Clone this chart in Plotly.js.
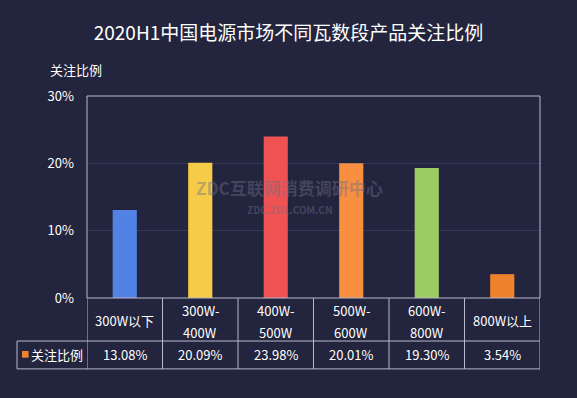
<!DOCTYPE html>
<html>
<head>
<meta charset="utf-8">
<script src="https://cdn.plot.ly/plotly-3.0.1.min.js"></script>
<style>html,body{margin:0;padding:0;background:#23243d;}#chart{width:577px;height:398px;}</style>
</head>
<body>
<div id="chart"></div>
<script>
var categories = ["300W以下", "300W-\n400W", "400W-\n500W", "500W-\n600W", "600W-\n800W", "800W以上"];
var values = [13.08, 20.09, 23.98, 20.01, 19.30, 3.54];
var barColors = ["#5282e3", "#f6cb47", "#ef5252", "#f88e3f", "#9dcb63", "#ef822d"];
var seriesName = "关注比例";
var yTicks = [0, 10, 20, 30];
var titleText = "2020H1中国电源市场不同瓦数段产品关注比例";

var FONT = "'Noto Sans CJK SC', 'Noto Sans', sans-serif";
var lineColor = "#b9b9cc";
var xIdx = categories.map(function(_, i){ return i; });

// table rows in paper coordinates (plot area 0..1)
var catRowBottom = -0.213, valRowBottom = -0.351, valRowCenter = -0.282;
var tableLeft = -0.1545;

var annotations = [];
categories.forEach(function(c, i){
  var lines = c.split("\n");
  if (lines.length === 1) {
    annotations.push({x: i, xref: 'x', y: -0.109, yref: 'paper', text: lines[0], showarrow: false,
      font: {family: FONT, size: 13, color: '#ffffff'}, xanchor: 'center', yanchor: 'middle'});
  } else {
    annotations.push({x: i, xref: 'x', y: -0.062, yref: 'paper', text: lines[0], showarrow: false,
      font: {family: FONT, size: 13, color: '#ffffff'}, xanchor: 'center', yanchor: 'middle'});
    annotations.push({x: i, xref: 'x', y: -0.171, yref: 'paper', text: lines[1], showarrow: false,
      font: {family: FONT, size: 13, color: '#ffffff'}, xanchor: 'center', yanchor: 'middle'});
  }
  annotations.push({x: i, xref: 'x', y: valRowCenter, yref: 'paper', text: values[i].toFixed(2) + '%', showarrow: false,
    font: {family: FONT, size: 13, color: '#ffffff'}, xanchor: 'center', yanchor: 'middle'});
});
// legend label in table
annotations.push({x: -0.127, xref: 'paper', y: valRowCenter, yref: 'paper', text: seriesName, showarrow: false,
  font: {family: FONT, size: 13, color: '#ffffff'}, xanchor: 'left', yanchor: 'middle'});
// y-axis title
annotations.push({x: -0.086, xref: 'paper', y: 1.13, yref: 'paper', text: seriesName, showarrow: false,
  font: {family: FONT, size: 13, color: '#ffffff'}, xanchor: 'left', yanchor: 'middle'});
// watermark
annotations.push({x: 0.448, xref: 'paper', y: 0.545, yref: 'paper', text: "<b>ZDC互联网消费调研中心</b>", showarrow: false,
  font: {family: FONT, size: 17, color: 'rgba(110,112,140,0.45)'}, xanchor: 'center', yanchor: 'middle'});
annotations.push({x: 0.448, xref: 'paper', y: 0.436, yref: 'paper', text: "<b>ZDC.ZOL.COM.CN</b>", showarrow: false,
  font: {family: FONT, size: 10, color: 'rgba(110,112,140,0.45)'}, xanchor: 'center', yanchor: 'middle'});

var shapes = [];
var ln = {color: lineColor, width: 1};
// plot border
shapes.push({type: 'rect', xref: 'paper', yref: 'paper', x0: 0, x1: 1, y0: 0, y1: 1, line: ln});
// table horizontal lines
shapes.push({type: 'line', xref: 'paper', yref: 'paper', x0: tableLeft, x1: 1, y0: catRowBottom, y1: catRowBottom, line: ln});
shapes.push({type: 'line', xref: 'paper', yref: 'paper', x0: tableLeft, x1: 1, y0: valRowBottom, y1: valRowBottom, line: ln});
shapes.push({type: 'line', xref: 'paper', yref: 'paper', x0: tableLeft, x1: tableLeft, y0: catRowBottom, y1: valRowBottom, line: ln});
// table vertical lines at category boundaries
for (var k = 0; k <= categories.length; k++) {
  shapes.push({type: 'line', xref: 'x', yref: 'paper', x0: k - 0.5, x1: k - 0.5, y0: 0, y1: valRowBottom, line: ln});
}
// legend square
shapes.push({type: 'rect', xref: 'paper', yref: 'paper', x0: -0.1435, x1: -0.1290, y0: valRowCenter + 0.003 - 0.0165, y1: valRowCenter + 0.003 + 0.0165,
  fillcolor: barColors[5], line: {width: 0}});

var trace = {
  type: 'bar',
  x: xIdx,
  y: values,
  width: 0.32,
  marker: {color: barColors, line: {width: 0}},
  hoverinfo: 'none',
  name: seriesName
};

var layout = {
  width: 577, height: 398,
  paper_bgcolor: '#23243d',
  plot_bgcolor: '#23243d',
  margin: {l: 87, r: 37, t: 96, b: 100},
  showlegend: false,
  title: {text: titleText, x: 0.5, xanchor: 'center', y: 0.915, yanchor: 'middle',
    font: {family: FONT, size: 19, color: '#ffffff'}},
  xaxis: {range: [-0.5, categories.length - 0.5], showticklabels: false, showgrid: false, zeroline: false, ticks: '', fixedrange: true},
  yaxis: {range: [0, 30], tickvals: yTicks, ticktext: yTicks.map(function(v){ return v + '%'; }),
    showgrid: true, gridcolor: '#36385a', gridwidth: 1, zeroline: false, ticks: '',
    ticklabelstandoff: 12,
    tickfont: {family: FONT, size: 13, color: '#ffffff'}, fixedrange: true},
  annotations: annotations,
  shapes: shapes
};

Plotly.newPlot('chart', [trace], layout, {displayModeBar: false, staticPlot: true});
</script>
</body>
</html>
